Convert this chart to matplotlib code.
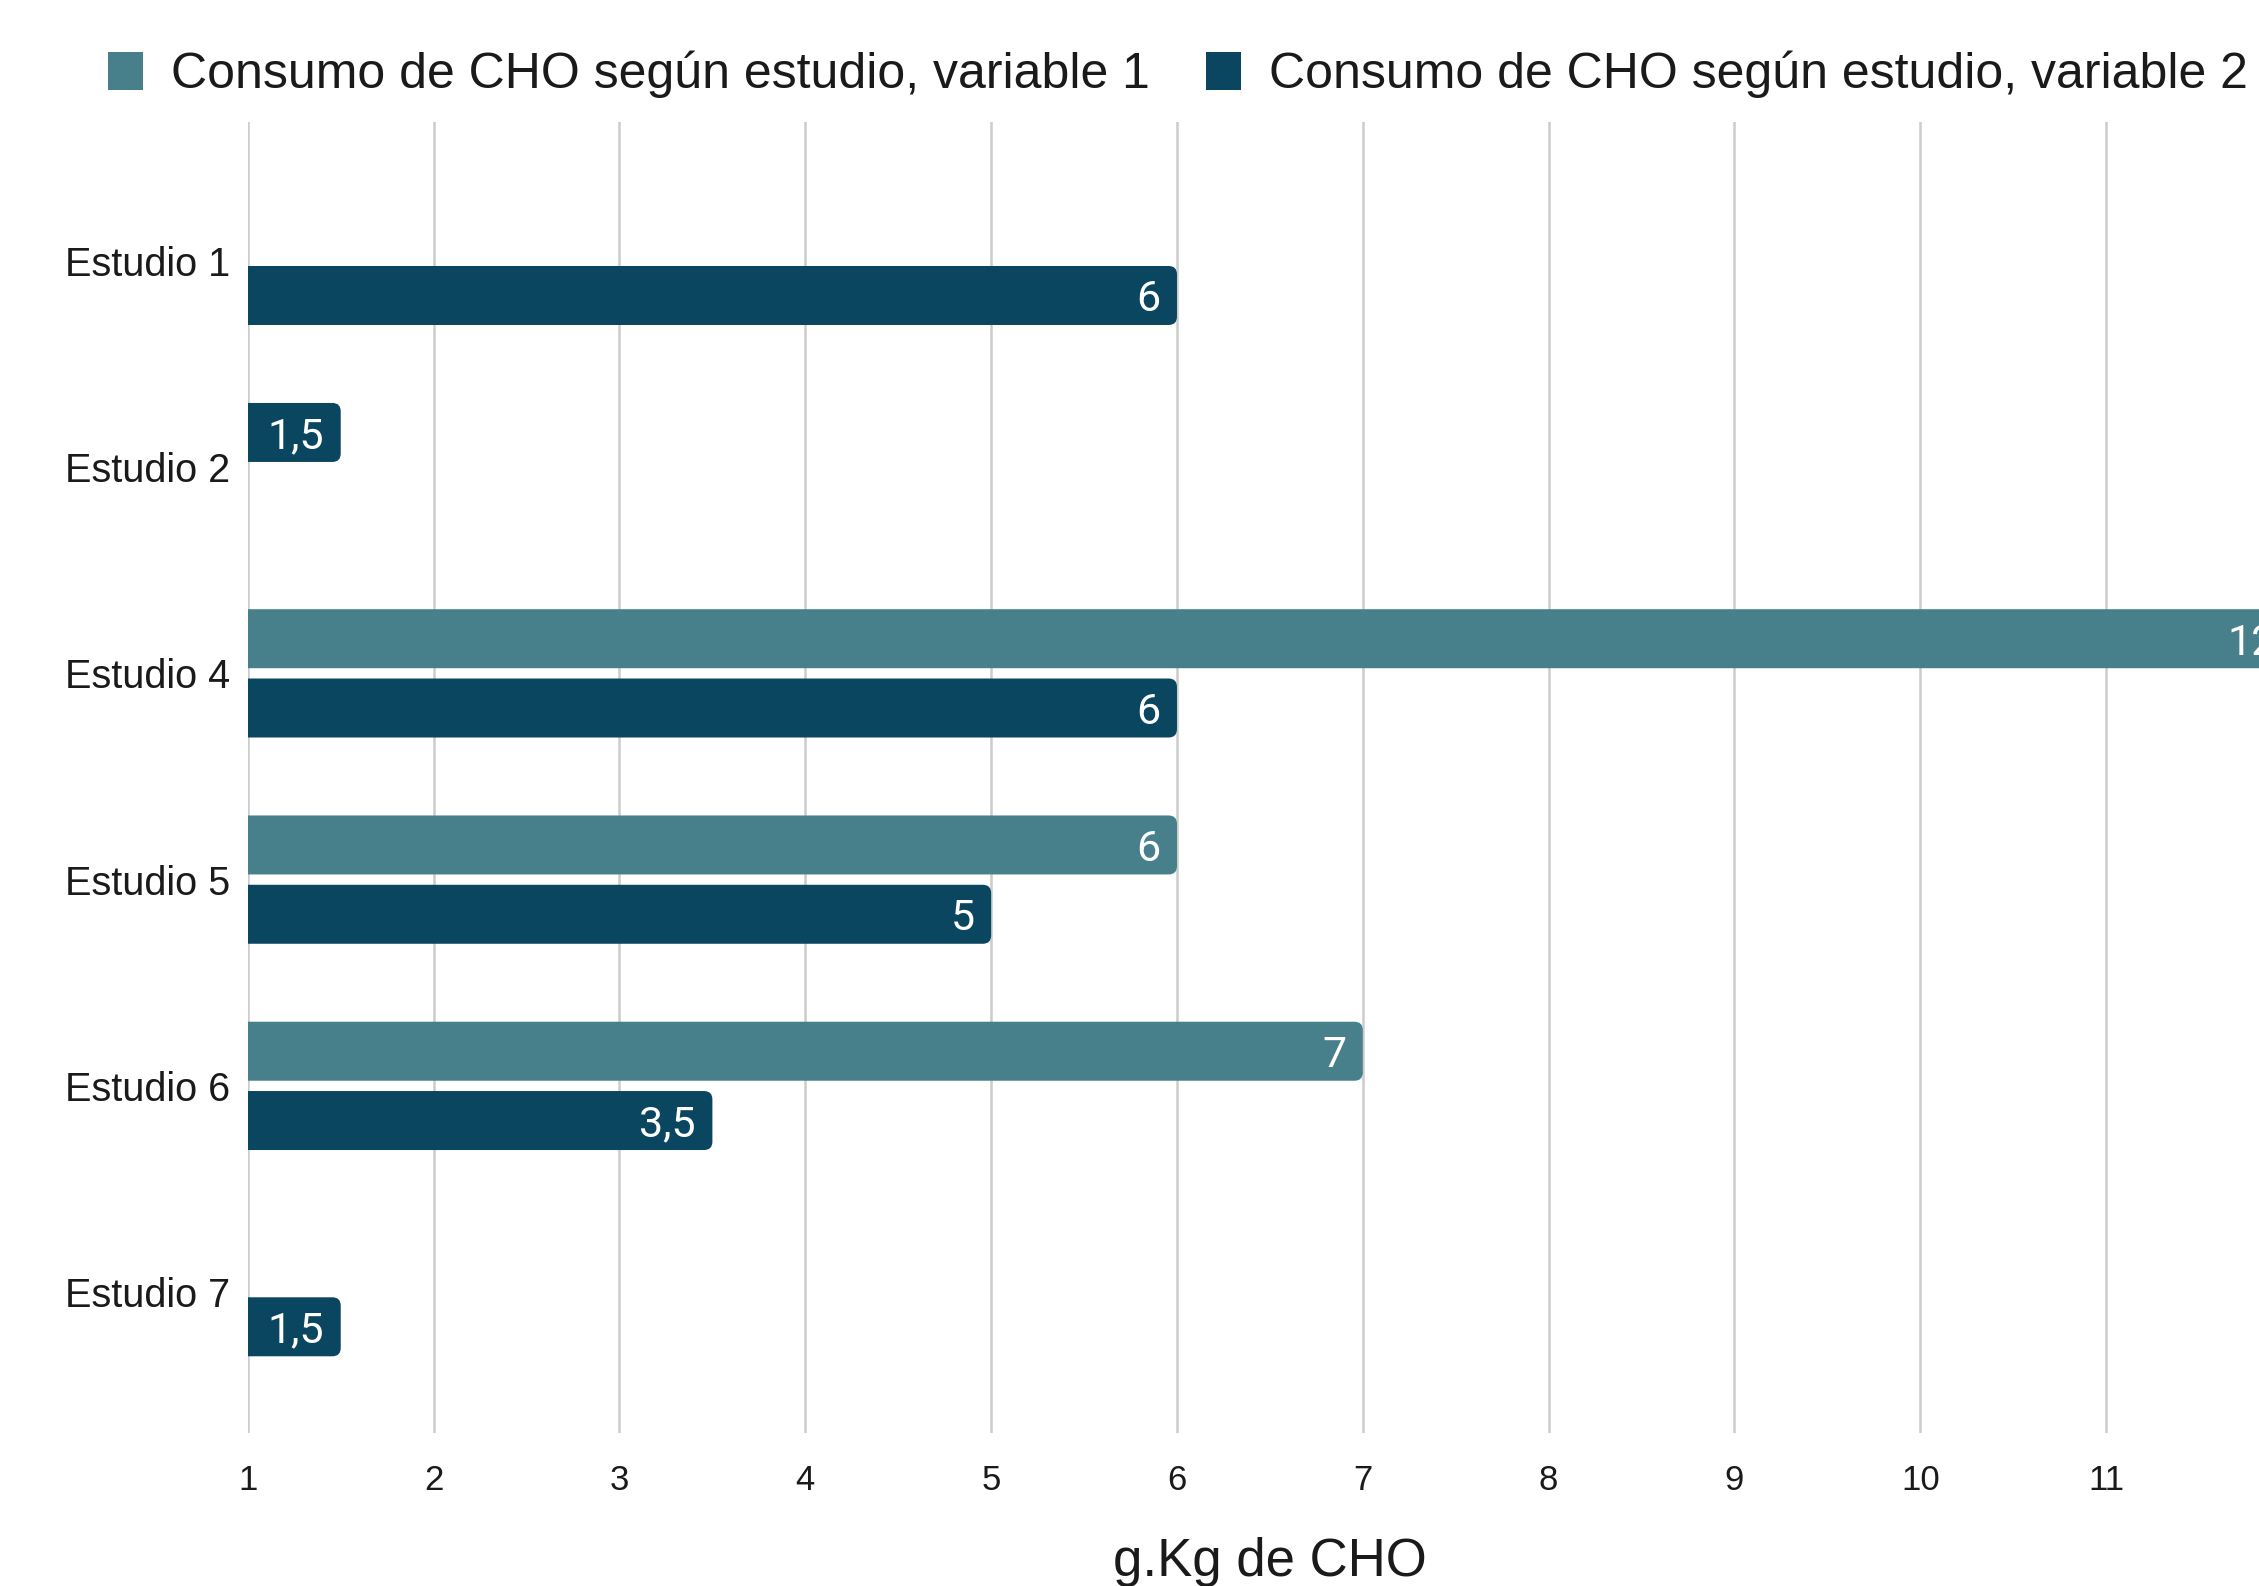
import numpy as np
import matplotlib
matplotlib.use("Agg")
import matplotlib.pyplot as plt
from matplotlib.patches import FancyBboxPatch, Patch

# datos: consumo de CHO (g/kg) por estudio
estudios = ["Estudio 1", "Estudio 2", "Estudio 4", "Estudio 5", "Estudio 6", "Estudio 7"]
variable_1 = [np.nan, 1.5, 12, 6, 7, np.nan]
variable_2 = [6, np.nan, 6, 5, 3.5, 1.5]
ticks_x = list(range(1, 12))
series = ["Consumo de CHO según estudio, variable 1", "Consumo de CHO según estudio, variable 2"]

color_1 = "#477f8b"
color_2 = "#0b4660"
# el estudio 2 lleva el color oscuro aunque está en la serie 1
colores_1 = [color_1, color_2, color_1, color_1, color_1, color_1]

plt.rcParams['font.family'] = ['Liberation Sans', 'DejaVu Sans']

fig = plt.figure(figsize=(22.59, 15.86), dpi=100)
ax = fig.add_axes([0.1097, 0.0962, 0.9049, 0.8266])

x_min, x_max = 1, 12
ax.set_xlim(x_min, x_max)
ax.set_ylim(5.685, -0.671)

alto = 0.286
desp = 0.168
radio = 0.045


def barra(y, v, color):
    # barra con esquinas redondeadas; el lado izquierdo queda fuera del eje
    x0 = x_min - 0.2
    p = FancyBboxPatch((x0, y - alto / 2), v - x0, alto,
                       boxstyle=f"round,pad=0,rounding_size={radio}",
                       mutation_aspect=0.9, facecolor=color, edgecolor="none",
                       zorder=3)
    p.set_clip_path(ax.patch)
    ax.add_patch(p)
    etiqueta = f"{v:g}".replace(".", ",")
    ax.annotate(etiqueta, (v, y), xytext=(-12, 0), textcoords="offset points",
                ha="right", va="center_baseline", color="white",
                fontsize=31, family=["Roboto", "DejaVu Sans"], zorder=4,
                annotation_clip=False)


for i in range(len(estudios)):
    if not np.isnan(variable_1[i]):
        barra(i - desp, variable_1[i], colores_1[i])
    if not np.isnan(variable_2[i]):
        barra(i + desp, variable_2[i], color_2)

ax.set_xticks(ticks_x)
ax.set_yticks(range(len(estudios)))
ax.set_yticklabels(estudios)
ax.grid(axis="x", color="#cccccc", linewidth=1.8, zorder=0)
ax.grid(axis="y", visible=False)
ax.set_axisbelow(True)
for s in ax.spines.values():
    s.set_visible(False)
ax.tick_params(axis="x", length=0, pad=22, labelsize=25, labelcolor="#1a1a1a")
ax.tick_params(axis="y", length=0, pad=13, labelsize=28.5, labelcolor="#1a1a1a")

ax.set_xlabel("g.Kg de CHO", fontsize=38, color="#1a1a1a")
ax.xaxis.label.set_va("baseline")
ax.xaxis.set_label_coords(0.5, -0.109)

handles = [Patch(facecolor=color_1), Patch(facecolor=color_2)]
fig.legend(handles, series, loc="center left", bbox_to_anchor=(0.0478, 0.953),
           ncol=2, frameon=False, fontsize=36, handlelength=0.7, handleheight=0.78,
           handletextpad=0.56, columnspacing=1.13, borderpad=0, borderaxespad=0,
           labelcolor="#1a1a1a")

fig.savefig("out.png", dpi=100)
